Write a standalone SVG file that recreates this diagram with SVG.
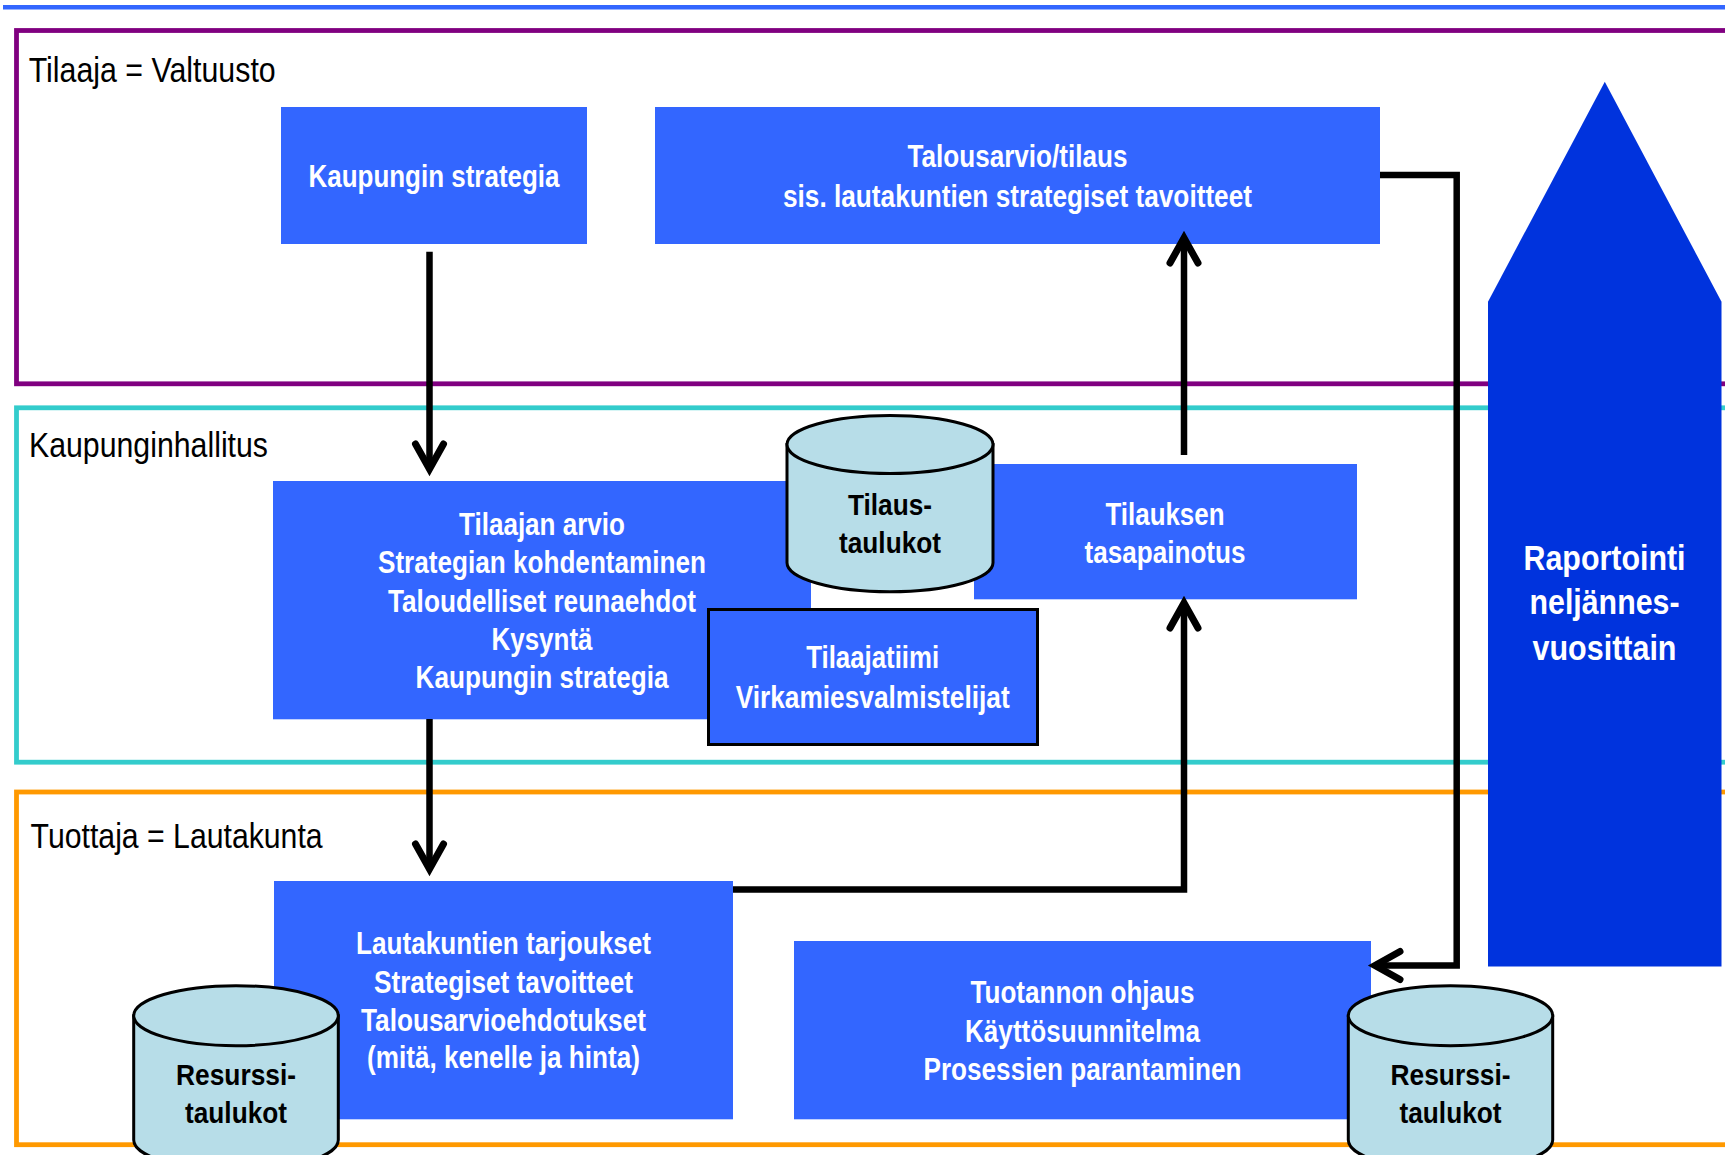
<svg xmlns="http://www.w3.org/2000/svg" width="1725" height="1155" viewBox="0 0 1725 1155">
<style>
.frame{fill:none;stroke-width:4.8}
.lbl{font-family:"Liberation Sans",Arial,sans-serif;font-size:35px;fill:#000}
.box{fill:#3366ff}
.bt{font-family:"Liberation Sans",Arial,sans-serif;font-size:31px;font-weight:bold;fill:#fff;text-anchor:middle}
.ct{font-family:"Liberation Sans",Arial,sans-serif;font-size:30px;font-weight:bold;fill:#000;text-anchor:middle}
.cyl{fill:#b7dde8;stroke:#000;stroke-width:3}
.rt{font-family:"Liberation Sans",Arial,sans-serif;font-size:35px;font-weight:bold;fill:#fff;text-anchor:middle}
.conn{fill:none;stroke:#000;stroke-width:6.5}
</style>
<defs>
<marker id="arr" markerUnits="userSpaceOnUse" markerWidth="40" markerHeight="40" refX="0" refY="0" orient="auto" overflow="visible">
<path d="M-25,-14 L0,0 L-25,14" fill="none" stroke="#000" stroke-width="7" stroke-linecap="round" stroke-linejoin="miter" stroke-miterlimit="4"/>
</marker>
</defs>
<rect width="1725" height="1155" fill="#fff"/>
<line x1="3" y1="7.3" x2="1725" y2="7.3" stroke="#3366ff" stroke-width="4.5"/>

<g id="frame-tilaaja">
<rect class="frame" x="16.5" y="30.5" width="1760" height="353.3" stroke="#800080"/>
<text class="lbl" x="28.7" y="81.7" textLength="247" lengthAdjust="spacingAndGlyphs">Tilaaja = Valtuusto</text>
</g>
<g id="frame-kh">
<rect class="frame" x="16.5" y="407.8" width="1760" height="354.4" stroke="#33cccc"/>
<text class="lbl" x="29" y="456.7" textLength="239" lengthAdjust="spacingAndGlyphs">Kaupunginhallitus</text>
</g>
<g id="frame-tuottaja">
<rect class="frame" x="16.5" y="792" width="1760" height="352.7" stroke="#ff9900"/>
<text class="lbl" x="30.6" y="848.3" textLength="292" lengthAdjust="spacingAndGlyphs">Tuottaja = Lautakunta</text>
</g>

<g id="raportointi">
<polygon points="1488,301.7 1604.8,81.7 1721.5,301.7 1721.5,966.4 1488,966.4" fill="#0033dd"/>
<text class="rt" x="1604.5" y="569.5" textLength="162" lengthAdjust="spacingAndGlyphs">Raportointi</text>
<text class="rt" x="1604.5" y="614.3" textLength="150" lengthAdjust="spacingAndGlyphs">neljännes-</text>
<text class="rt" x="1604.5" y="659.5" textLength="144" lengthAdjust="spacingAndGlyphs">vuosittain</text>
</g>

<g id="kaupungin-strategia">
<rect class="box" x="281" y="107" width="306" height="137"/>
<text class="bt" x="434" y="186.7" textLength="251" lengthAdjust="spacingAndGlyphs">Kaupungin strategia</text>
</g>

<g id="talousarvio">
<rect class="box" x="655" y="107" width="725" height="137"/>
<text class="bt" x="1017.5" y="166.7" textLength="220" lengthAdjust="spacingAndGlyphs">Talousarvio/tilaus</text>
<text class="bt" x="1017.5" y="206.7" textLength="469" lengthAdjust="spacingAndGlyphs">sis. lautakuntien strategiset tavoitteet</text>
</g>

<g id="tilaajan-arvio">
<rect class="box" x="273" y="481" width="538" height="238.3"/>
<text class="bt" x="542" y="535" textLength="166" lengthAdjust="spacingAndGlyphs">Tilaajan arvio</text>
<text class="bt" x="542" y="573.3" textLength="328" lengthAdjust="spacingAndGlyphs">Strategian kohdentaminen</text>
<text class="bt" x="542" y="611.7" textLength="308" lengthAdjust="spacingAndGlyphs">Taloudelliset reunaehdot</text>
<text class="bt" x="542" y="650" textLength="101" lengthAdjust="spacingAndGlyphs">Kysyntä</text>
<text class="bt" x="542" y="688.3" textLength="253" lengthAdjust="spacingAndGlyphs">Kaupungin strategia</text>
</g>

<g id="tilauksen-tasapainotus">
<rect class="box" x="974" y="464" width="383" height="135.3"/>
<text class="bt" x="1165" y="525" textLength="119" lengthAdjust="spacingAndGlyphs">Tilauksen</text>
<text class="bt" x="1165" y="563.3" textLength="161" lengthAdjust="spacingAndGlyphs">tasapainotus</text>
</g>

<g id="tilaajatiimi">
<rect class="box" x="708.5" y="609.5" width="329" height="135" stroke="#000" stroke-width="3"/>
<text class="bt" x="872.7" y="668.3" textLength="133" lengthAdjust="spacingAndGlyphs">Tilaajatiimi</text>
<text class="bt" x="872.7" y="708.3" textLength="274" lengthAdjust="spacingAndGlyphs">Virkamiesvalmistelijat</text>
</g>

<g id="lautakuntien-tarjoukset">
<rect class="box" x="274" y="881" width="459" height="238.3"/>
<text class="bt" x="503.5" y="954" textLength="295" lengthAdjust="spacingAndGlyphs">Lautakuntien tarjoukset</text>
<text class="bt" x="503.5" y="992.7" textLength="259" lengthAdjust="spacingAndGlyphs">Strategiset tavoitteet</text>
<text class="bt" x="503.5" y="1030.7" textLength="285" lengthAdjust="spacingAndGlyphs">Talousarvioehdotukset</text>
<text class="bt" x="503.5" y="1068.3" textLength="273" lengthAdjust="spacingAndGlyphs">(mitä, kenelle ja hinta)</text>
</g>

<g id="tuotannon-ohjaus">
<rect class="box" x="794" y="941" width="577" height="178.3"/>
<text class="bt" x="1082.5" y="1002.7" textLength="224" lengthAdjust="spacingAndGlyphs">Tuotannon ohjaus</text>
<text class="bt" x="1082.5" y="1041.7" textLength="235" lengthAdjust="spacingAndGlyphs">Käyttösuunnitelma</text>
<text class="bt" x="1082.5" y="1080" textLength="318" lengthAdjust="spacingAndGlyphs">Prosessien parantaminen</text>
</g>

<g id="connectors">
<path class="conn" d="M429.5,251.7 V469" marker-end="url(#arr)"/>
<path class="conn" d="M429.5,719 V869" marker-end="url(#arr)"/>
<path class="conn" d="M733,889.5 H1184 V603" marker-end="url(#arr)"/>
<path class="conn" d="M1184,455 V238" marker-end="url(#arr)"/>
<path class="conn" d="M1380,175 H1456.7 V965.5 H1375" marker-end="url(#arr)"/>
</g>

<g id="tilaus-taulukot">
<path class="cyl" d="M787,444.5 V562.7 A103,29 0 0 0 993,562.7 V444.5 Z"/>
<ellipse class="cyl" cx="890" cy="444.5" rx="103" ry="29"/>
<text class="ct" x="890" y="515" textLength="84" lengthAdjust="spacingAndGlyphs">Tilaus-</text>
<text class="ct" x="890" y="553.3" textLength="102" lengthAdjust="spacingAndGlyphs">taulukot</text>
</g>

<g id="resurssi-taulukot-1">
<path class="cyl" d="M133.7,1015.7 V1140 A102.3,30 0 0 0 338.3,1140 V1015.7 Z"/>
<ellipse class="cyl" cx="236" cy="1015.7" rx="102.3" ry="30"/>
<text class="ct" x="236" y="1085" textLength="120" lengthAdjust="spacingAndGlyphs">Resurssi-</text>
<text class="ct" x="236" y="1123.3" textLength="102" lengthAdjust="spacingAndGlyphs">taulukot</text>
</g>

<g id="resurssi-taulukot-2">
<path class="cyl" d="M1348.3,1015.7 V1140 A102.2,30 0 0 0 1552.7,1140 V1015.7 Z"/>
<ellipse class="cyl" cx="1450.5" cy="1015.7" rx="102.2" ry="30"/>
<text class="ct" x="1450.5" y="1085" textLength="120" lengthAdjust="spacingAndGlyphs">Resurssi-</text>
<text class="ct" x="1450.5" y="1123.3" textLength="102" lengthAdjust="spacingAndGlyphs">taulukot</text>
</g>
</svg>
